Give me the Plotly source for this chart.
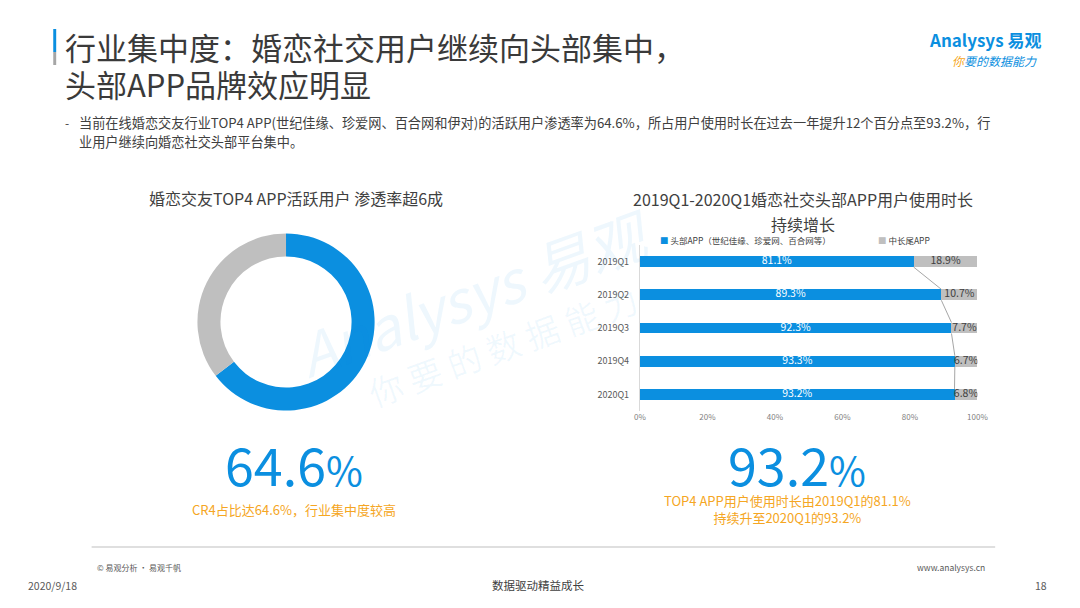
import plotly.graph_objects as go

# donut: TOP4 active user penetration
donut_labels = ["TOP4 APP", "其他"]
donut_values = [64.6, 35.4]

# stacked bars: share of usage time
quarters = ["2019Q1", "2019Q2", "2019Q3", "2019Q4", "2020Q1"]
head_share = [81.1, 89.3, 92.3, 93.3, 93.2]
tail_share = [18.9, 10.7, 7.7, 6.7, 6.8]
x_ticks = [0, 20, 40, 60, 80, 100]

BLUE = "#0B8FE0"
GREY = "#BFBFBF"
ORANGE = "#F5A623"
DARK = "#404040"
FONT = "Noto Sans CJK SC"
W, H = 1080, 608


def px(x):
    return x / W


def py(y):
    return 1 - y / H


fig = go.Figure()

# donut
fig.add_trace(go.Pie(
    labels=donut_labels, values=donut_values, hole=0.74, sort=False,
    direction="clockwise", rotation=0, textinfo="none", hoverinfo="label+percent",
    marker=dict(colors=[BLUE, GREY], line=dict(width=0)),
    domain=dict(x=[px(194.5), px(374.5)], y=[py(412), py(232)]),
    showlegend=False,
))

idx = list(range(len(quarters)))
bar_w = 0.33

# series lines between the ends of the blue bars
line_x, line_y = [], []
for i in range(len(quarters) - 1):
    line_x += [head_share[i], head_share[i + 1], None]
    line_y += [i + bar_w / 2, i + 1 - bar_w / 2, None]
fig.add_trace(go.Scatter(x=line_x, y=line_y, mode="lines", line=dict(color="#A6A6A6", width=1),
                         hoverinfo="skip", showlegend=False))

fig.add_trace(go.Bar(
    y=idx, x=head_share, orientation="h", width=bar_w, marker=dict(color=BLUE, line=dict(width=0)),
    showlegend=False, name="头部APP",
))
fig.add_trace(go.Bar(
    y=idx, x=tail_share, orientation="h", width=bar_w, marker=dict(color=GREY, line=dict(width=0)),
    showlegend=False, name="中长尾APP",
))
# segment labels (text traces so they are not shrunk to the thin bars)
fig.add_trace(go.Scatter(
    x=[h / 2 for h in head_share], y=idx, mode="text",
    text=[f"{h:.1f}%" for h in head_share], textfont=dict(color="white", size=10.5, family=FONT),
    hoverinfo="skip", showlegend=False,
))
fig.add_trace(go.Scatter(
    x=[h + t / 2 for h, t in zip(head_share, tail_share)], y=idx, mode="text",
    text=[f"{t:.1f}%" for t in tail_share], textfont=dict(color=DARK, size=10.5, family=FONT),
    hoverinfo="skip", showlegend=False,
))

fig.update_layout(
    width=W, height=H, margin=dict(l=0, r=0, t=0, b=0),
    paper_bgcolor="white", plot_bgcolor="white", barmode="stack",
    font=dict(family=FONT, color=DARK),
    xaxis=dict(domain=[px(644), px(987)], range=[0, 100], tickmode="array", tickvals=x_ticks,
               ticktext=[f"{v}%" for v in x_ticks],
               showgrid=False, zeroline=False, showline=False,
               tickfont=dict(size=8, color="#7F7F7F")),
    yaxis=dict(domain=[py(411), py(245)], range=[4.5, -0.5], tickmode="array", tickvals=idx,
               ticktext=quarters, showgrid=False, zeroline=False, showline=True, linecolor="#D9D9D9",
               ticklabelstandoff=8, tickfont=dict(size=9, color="#595959")),
)

shapes = [
    dict(type="rect", xref="paper", yref="paper", x0=px(48), x1=px(51), y0=py(52), y1=py(29),
         fillcolor=BLUE, line=dict(width=0)),
    dict(type="rect", xref="paper", yref="paper", x0=px(48), x1=px(51), y0=py(65), y1=py(52),
         fillcolor="#A6A6A6", line=dict(width=0)),
    dict(type="line", xref="paper", yref="paper", x0=px(87), x1=px(1005), y0=py(547), y1=py(547),
         line=dict(color="#BFBFBF", width=1)),
]
fig.update_layout(shapes=shapes)


def note(x, y, text, size, color=DARK, xanchor="center", **kw):
    fig.add_annotation(x=px(x), y=py(y), xref="paper", yref="paper", text=text, showarrow=False,
                       xanchor=xanchor, yanchor="middle", font=dict(size=size, color=color, family=FONT), **kw)


# watermark
note(475, 292, "<i>Analysys 易观</i>", 58, "rgba(11,143,224,0.07)", textangle=-20)
note(505, 345, "你 要 的 数 据 能 力", 34, "rgba(11,143,224,0.06)", textangle=-20)

# header
note(58, 46, "行业集中度：婚恋社交用户继续向头部集中，", 31, "#3A3A3A", xanchor="left")
note(58, 83, "头部APP品牌效应明显", 31, "#3A3A3A", xanchor="left")
note(58, 122, "-", 12, DARK, xanchor="left")
note(72, 122, "当前在线婚恋交友行业TOP4 APP(世纪佳缘、珍爱网、百合网和伊对)的活跃用户渗透率为64.6%，"
     "所占用户使用时长在过去一年提升12个百分点至93.2%，行", 13.2, DARK, xanchor="left")
note(72, 141, "业用户继续向婚恋社交头部平台集中。", 13.2, DARK, xanchor="left")

# logo
note(1054, 40, "<b>Analysys 易观</b>", 17, BLUE, xanchor="right")
note(1050, 60, f"<i><span style='color:{ORANGE}'>你</span>要的数据能力</i>", 12, BLUE, xanchor="right")

# chart titles
note(295, 198, "婚恋交友TOP4 APP活跃用户 渗透率超6成", 16, DARK)
note(810, 199, "2019Q1-2020Q1婚恋社交头部APP用户使用时长", 16, DARK)
note(810, 224, "持续增长", 16, DARK)

# legend
note(662, 240, f"<span style='color:{BLUE}'>■</span> 头部APP（世纪佳缘、珍爱网、百合网等）", 8.5, DARK, xanchor="left")
note(884, 240, f"<span style='color:{GREY}'>■</span> 中长尾APP", 8.5, DARK, xanchor="left")

# key figures
note(293, 463, f"{donut_values[0]}<span style='font-size:40px'>%</span>", 52, BLUE)
note(293, 509, f"CR4占比达{donut_values[0]}%，行业集中度较高", 13, ORANGE)
note(804, 463, f"{head_share[-1]}<span style='font-size:40px'>%</span>", 52, BLUE)
note(794, 509.5, f"TOP4 APP用户使用时长由{quarters[0]}的{head_share[0]}%<br>"
     f"持续升至{quarters[-1]}的{head_share[-1]}%", 13, ORANGE)

# footer
note(90, 567, "© 易观分析 · 易观千帆", 8, "#595959", xanchor="left")
note(997, 567, "www.analysys.cn", 8.5, "#595959", xanchor="right")
note(20, 585, "2020/9/18", 10.5, "#595959", xanchor="left")
note(540, 585, "数据驱动精益成长", 11.5, DARK)
note(1060, 585, "18", 10.5, "#595959", xanchor="right")

fig.write_html("out.html", post_script="document.body.style.margin='0';",
               config={"displayModeBar": False})
